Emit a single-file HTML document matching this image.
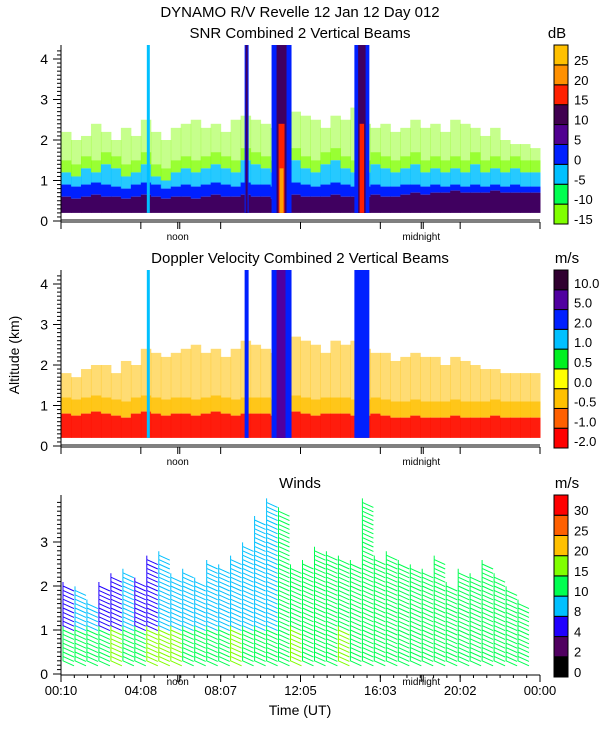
<!DOCTYPE html>
<html><head><meta charset="utf-8"><style>
html,body{margin:0;padding:0;background:#fff;}
svg{display:block;font-family:"Liberation Sans",sans-serif;}
</style></head><body>
<svg id="chart" width="600" height="750" viewBox="0 0 600 750">
<rect width="600" height="750" fill="#fff"/>
<text x="300" y="17" text-anchor="middle" font-size="15">DYNAMO R/V Revelle  12 Jan 12 Day 012</text>
<text x="300" y="38" text-anchor="middle" font-size="15">SNR Combined 2 Vertical Beams</text>
<text x="300" y="263" text-anchor="middle" font-size="15">Doppler Velocity Combined 2 Vertical Beams</text>
<text x="300" y="488" text-anchor="middle" font-size="15">Winds</text>
<text x="300" y="715" text-anchor="middle" font-size="14">Time (UT)</text>
<text x="19" y="355" text-anchor="middle" font-size="14" transform="rotate(-90 19 355)">Altitude (km)</text>
<text x="557" y="38" text-anchor="middle" font-size="15">dB</text>
<text x="567" y="263" text-anchor="middle" font-size="15">m/s</text>
<text x="567" y="488" text-anchor="middle" font-size="15">m/s</text>
<g id="layer"></g>
</svg>
<script>
// ---- data ----
const timeLabels = ["00:10","04:08","08:07","12:05","16:03","20:02","00:00"];
const snrLimeTop   = [2.2,2.0,2.1,2.4,2.2,2.0,2.3,2.1,2.5,2.2,2.0,2.3,2.4,2.5,2.3,2.4,2.2,2.5,2.6,2.5,2.4,2.3,2.6,2.7,2.6,2.5,2.3,2.6,2.5,2.8,2.4,2.3,2.4,2.2,2.3,2.5,2.3,2.4,2.2,2.5,2.4,2.3,2.1,2.3,2.0,1.9,1.9,1.8];
const snrCyanTop   = [1.2,1.1,1.3,1.2,1.4,1.3,1.1,1.2,1.4,1.1,1.0,1.2,1.3,1.2,1.3,1.4,1.3,1.2,1.5,1.4,1.3,1.2,1.4,1.5,1.3,1.2,1.4,1.5,1.3,1.2,1.2,1.4,1.3,1.2,1.3,1.4,1.2,1.3,1.2,1.3,1.2,1.4,1.2,1.3,1.2,1.3,1.2,1.2];
const snrBlueTop   = [0.9,0.85,0.9,0.95,0.9,0.85,0.8,0.9,0.95,0.9,0.8,0.85,0.9,0.85,0.9,0.95,0.9,0.85,0.95,0.9,0.9,0.85,0.9,0.95,0.9,0.85,0.9,0.95,0.9,0.85,0.85,0.9,0.85,0.85,0.9,0.9,0.85,0.9,0.85,0.9,0.85,0.9,0.85,0.9,0.85,0.9,0.85,0.85];
const snrPurpleTop = [0.6,0.55,0.6,0.65,0.6,0.6,0.55,0.6,0.65,0.6,0.55,0.6,0.6,0.55,0.6,0.65,0.6,0.6,0.65,0.6,0.6,0.55,0.6,0.65,0.6,0.6,0.6,0.65,0.6,0.6,0.6,0.65,0.6,0.6,0.65,0.7,0.65,0.7,0.7,0.75,0.7,0.7,0.7,0.75,0.7,0.7,0.7,0.7];
const dopRedTop    = [0.8,0.75,0.8,0.85,0.8,0.75,0.7,0.8,0.85,0.8,0.75,0.8,0.8,0.75,0.8,0.85,0.8,0.75,0.8,0.8,0.8,0.75,0.8,0.85,0.8,0.75,0.8,0.8,0.8,0.75,0.75,0.8,0.75,0.7,0.7,0.75,0.7,0.7,0.7,0.75,0.7,0.7,0.7,0.75,0.7,0.7,0.7,0.7];
const dopGoldTop   = [1.8,1.7,1.9,2.0,2.0,1.8,2.1,2.0,2.4,2.3,2.2,2.3,2.4,2.5,2.3,2.4,2.2,2.4,2.6,2.5,2.4,2.3,2.6,2.7,2.6,2.5,2.3,2.6,2.5,2.6,2.4,2.3,2.3,2.1,2.2,2.3,2.2,2.2,2.0,2.2,2.1,2.0,1.9,1.9,1.8,1.8,1.8,1.8];
const rainStart = [4.3, 9.2, 10.55, 14.7];
const rainEnd   = [4.45, 9.4, 11.55, 15.45];
const rainCore  = [0, 1, 3, 2];
const windHours = [0.1,0.7,1.3,1.9,2.5,3.1,3.7,4.3,4.9,5.5,6.1,6.7,7.3,7.9,8.5,9.1,9.7,10.3,10.9,11.5,12.1,12.7,13.3,13.9,14.5,15.1,15.7,16.3,16.9,17.5,18.1,18.7,19.3,19.9,20.5,21.1,21.7,22.3,22.9];
const windTop   = [2.0,1.9,1.6,2.0,2.2,2.3,2.1,2.6,2.7,2.2,2.3,2.1,2.5,2.4,2.6,2.9,3.5,3.9,3.7,2.4,2.5,2.8,2.7,2.6,2.5,3.9,2.6,2.7,2.5,2.4,2.3,2.6,2.0,2.3,2.2,2.5,2.2,1.9,1.6];
const windLowSpd  = [12,12,14,12,15,12,14,15,16,15,12,14,12,12,15,12,12,12,12,15,14,12,12,15,14,12,12,12,14,12,12,12,12,12,14,12,12,12,12];
const windHighSpd = [5,9,9,5,5,9,5,5,9,9,9,9,9,9,9,9,9,9,12,12,12,12,12,12,12,12,12,12,12,12,12,12,12,12,12,12,12,12,12];

// ---- geometry ----
const X0=61, X1=540;
const xs = h => X0 + h/24*(X1-X0);
const panels = [
  {name:'snr', y0:221, k:40.5, top:45},
  {name:'doppler', y0:446, k:40.5, top:270},
  {name:'winds', y0:674, k:44, top:495}
];
const NS='http://www.w3.org/2000/svg';
const layer=document.getElementById('layer');
function mk(tag, attrs, parent){const e=document.createElementNS(NS,tag);for(const k in attrs)e.setAttribute(k,attrs[k]);(parent||layer).appendChild(e);return e;}

function band(p, i, lo, hi, color, op){
  const ys=v=>p.y0 - v*p.k;
  const r=mk('rect',{x:xs(i*0.5),y:ys(hi),width:(X1-X0)/48+0.5,height:Math.max(0,ys(lo)-ys(hi)),fill:color,opacity:op});
  
  
}

// SNR panel
{const p=panels[0];
 for(let i=0;i<48;i++){
   band(p,i,snrCyanTop[i]+0.3,snrLimeTop[i],'#80ff00',0.45);
   band(p,i,snrCyanTop[i],snrCyanTop[i]+0.3,'#80ff00',0.8);
   band(p,i,snrBlueTop[i],snrCyanTop[i],'#00c0ff',0.85);
   band(p,i,snrPurpleTop[i],snrBlueTop[i],'#0020ff',1);
   band(p,i,0.2,snrPurpleTop[i],'#400060',1);
 }
 for(let j=0;j<rainStart.length;j++){
   const a=xs(rainStart[j]),b=xs(rainEnd[j]);
   const r=mk('rect',{x:a,y:p.top,width:b-a,height:p.y0-0.2*p.k-p.top,fill:rainCore[j]==0?'#00c0ff':'#0020ff'});
   
   
   if(rainCore[j]>0){
   const w=(b-a)*0.5, c=mk('rect',{x:a+w*0.5,y:p.top,width:w,height:p.y0-0.2*p.k-p.top,fill:'#400060'});
   
   
   if(rainCore[j]>=2){
     const cc=mk('rect',{x:a+w*0.7,y:p.y0-2.4*p.k,width:w*0.6,height:2.2*p.k,fill:'#ff2000'});
     
     
     if(rainCore[j]==3){const o=mk('rect',{x:a+w*0.8,y:p.y0-1.3*p.k,width:w*0.4,height:1.1*p.k,fill:'#ffa000'});
       
       }
   }}
 }
}
// Doppler panel
{const p=panels[1];
 for(let i=0;i<48;i++){
   band(p,i,dopRedTop[i]+0.4,dopGoldTop[i],'#ffc000',0.55);
   band(p,i,dopRedTop[i],dopRedTop[i]+0.4,'#ffc000',0.9);
   band(p,i,0.2,dopRedTop[i],'#ff1000',0.95);
 }
 for(let j=0;j<rainStart.length;j++){
   const a=xs(rainStart[j]),b=xs(rainEnd[j]);
   const r=mk('rect',{x:a,y:p.top,width:b-a,height:p.y0-0.2*p.k-p.top,fill:rainCore[j]==0?'#00c0ff':'#0020ff'});
   
   
   if(rainCore[j]==3){const w=(b-a);const c=mk('rect',{x:a+w*0.25,y:p.top,width:w*0.45,height:p.y0-0.2*p.k-p.top,fill:'#5000a0'});
     
     }
 }
}
// Winds panel
function spdColor(s){const c=['#000000','#500060','#2000ff','#00c0ff','#00ff50','#80ff00','#ffc000','#ff6000','#ff0000'];
 const b=[2,4,8,10,15,20,25,30];let i=0;while(i<b.length&&s>=b[i])i++;return c[i];}
{const p=panels[2];
 for(let j=0;j<windHours.length;j++){
   const x=xs(windHours[j]);
   for(let h=0.3;h<=windTop[j]+1e-6;h+=0.1){
     const y=p.y0-h*p.k;
     const col=spdColor(h<1.0?windLowSpd[j]:windHighSpd[j]);
     const l=mk('path',{d:`M${x.toFixed(1)},${(y-4).toFixed(1)} L${x.toFixed(1)},${y.toFixed(1)} L${(x+11).toFixed(1)},${(y+5).toFixed(1)}`,stroke:col,'stroke-width':1,fill:'none'});
     
     
   }
 }
}

// axes
panels.forEach((p,pi)=>{
  const ax=mk('g',{stroke:'#000','stroke-width':1,fill:'none'});
  
  
  mk('line',{x1:X0,y1:p.top,x2:X0,y2:p.y0+1},ax);
  mk('line',{x1:X0,y1:p.y0+1,x2:X1,y2:p.y0+1},ax);
  if(pi<2) mk('line',{x1:X0,y1:p.y0-1,x2:X1,y2:p.y0-1},ax);
  const maxKm = pi<2?4.2:3.9;
  for(let t=0;t<=maxKm+1e-6;t+=0.1){const y=p.y0-t*p.k;const maj=Math.abs(t-Math.round(t))<1e-6;
    mk('line',{x1:X0-(maj?8:4),y1:y,x2:X0,y2:y},ax);
    if(maj){const tx=mk('text',{x:X0-13,y:y+5,'text-anchor':'end','font-size':14,fill:'#000',stroke:'none'},ax);tx.textContent=Math.round(t);
      
      }
  }
  for(let h=0;h<=24.01;h+=4){const x=xs(h);mk('line',{x1:x,y1:p.y0+1,x2:x,y2:p.y0+8},ax);}
  if(pi==2){for(let h=0;h<24;h+=4/6){const x=xs(h);mk('line',{x1:x,y1:p.y0+1,x2:x,y2:p.y0+4},ax);}}
  [5.85,18.05].forEach((h,k)=>{const x=xs(h);mk('line',{x1:x,y1:p.y0+1,x2:x,y2:p.y0+8},ax);mk('line',{x1:x+2,y1:p.y0+1,x2:x+2,y2:p.y0+8},ax);
    const tx=mk('text',{x:x,y:p.y0+(pi==2?11:19),'text-anchor':'middle','font-size':10,fill:'#000',stroke:'none'},ax);tx.textContent=k?'midnight':'noon';
    
    });
});
timeLabels.forEach((s,i)=>{const t=mk('text',{x:xs(i*4),y:695,'text-anchor':'middle','font-size':13});t.textContent=s;
  
  });

// colorbars
const cbSnrColors=['#80ff00','#00ff50','#00c0ff','#0020ff','#500090','#400050','#ff2000','#ff9000','#ffc000'];
const cbSnrLabels=['-15','-10','-5','0','5','10','15','20','25'];
const cbDopColors=['#ff0000','#ff6000','#ffc000','#ffff00','#00f020','#00c0ff','#0020ff','#5000a0','#300030'];
const cbDopLabels=['-2.0','-1.0','-0.5','0.0','0.5','1.0','2.0','5.0','10.0'];
const cbWindColors=['#000000','#500060','#2000ff','#00c0ff','#00ff50','#80ff00','#ffc000','#ff6000','#ff0000'];
const cbWindLabels=['0','2','4','8','10','15','20','25','30'];
function colorbar(name,top,bot,cols,labs,x,shift){
  const g=mk('g',{});
  const h=(bot-top)/cols.length;
  cols.forEach((c,i)=>{const y=bot-(i+1)*h;mk('rect',{x:x,y:y,width:14,height:h,fill:c,stroke:'#000','stroke-width':1},g);
    const t=mk('text',{x:x+20,y:y+h*0.5+5-shift,'font-size':13},g);t.textContent=labs[i];
    
    });
}
colorbar('snr-colorbar',45,224,cbSnrColors,cbSnrLabels,554,-5);
colorbar('doppler-colorbar',270,448,cbDopColors,cbDopLabels,554,-3);
colorbar('winds-colorbar',495,677,cbWindColors,cbWindLabels,554,-5);
</script>
</body></html>
